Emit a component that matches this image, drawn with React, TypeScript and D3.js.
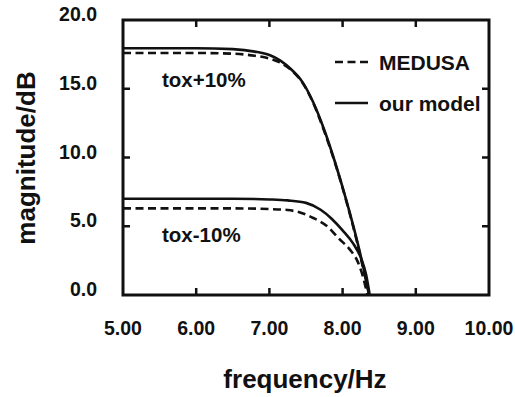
import React, { useRef, useEffect } from "react";
import * as d3 from "d3";

// tick values
const xTicks = [5, 6, 7, 8, 9, 10];
const yTicks = [0, 5, 10, 15, 20];

// tox+10% curves
const highFreqModel = [5.0, 6.0, 6.5, 6.8, 7.0, 7.15, 7.3, 7.45, 7.6, 7.75, 7.9, 8.05, 8.2, 8.3, 8.36];
const highModel = [17.95, 17.95, 17.88, 17.7, 17.45, 17.05, 16.4, 15.5, 14.0, 12.0, 9.6, 6.9, 3.9, 1.6, 0.0];
const highFreqMedusa = [5.0, 6.0, 6.5, 6.8, 7.0, 7.15, 7.3, 7.45, 7.6, 7.75, 7.9, 8.05, 8.2, 8.3, 8.37];
const highMedusa = [17.6, 17.6, 17.55, 17.4, 17.2, 16.9, 16.35, 15.45, 13.95, 11.9, 9.55, 6.85, 3.8, 1.5, 0.0];

// tox-10% curves
const lowFreqModel = [5.0, 6.5, 7.0, 7.25, 7.5, 7.7, 7.85, 8.0, 8.15, 8.25, 8.32, 8.37];
const lowModel = [7.0, 7.0, 6.95, 6.88, 6.7, 6.2, 5.55, 4.7, 3.7, 2.7, 1.5, 0.0];
const lowFreqMedusa = [5.0, 6.5, 7.0, 7.25, 7.45, 7.6, 7.8, 7.95, 8.1, 8.2, 8.28, 8.34];
const lowMedusa = [6.3, 6.3, 6.25, 6.18, 5.95, 5.6, 4.95, 4.1, 3.3, 2.5, 1.3, 0.0];

const legendLabels = ["MEDUSA", "our model"];

export default function App() {
    const ref = useRef<SVGSVGElement | null>(null);

    useEffect(() => {
        if (!ref.current) return;
        const svg = d3.select(ref.current);
        svg.selectAll("*").remove();

        const left = 123, right = 489, top = 20, bottom = 295;
        const font = "'Liberation Sans', Arial, Helvetica, sans-serif";

        const x = d3.scaleLinear().domain([5, 10]).range([left, right]);
        const y = d3.scaleLinear().domain([0, 20]).range([bottom, top]);

        const line = d3.line<[number, number]>()
            .x((d) => x(d[0]))
            .y((d) => y(d[1]))
            .curve(d3.curveMonotoneX);

        const series = [
            { f: highFreqMedusa, v: highMedusa, dashed: true },
            { f: highFreqModel, v: highModel, dashed: false },
            { f: lowFreqMedusa, v: lowMedusa, dashed: true },
            { f: lowFreqModel, v: lowModel, dashed: false },
        ];

        series.forEach((s) => {
            const pts = s.f.map((f, i) => [f, s.v[i]] as [number, number]);
            svg.append("path")
                .attr("d", line(pts)!)
                .attr("fill", "none")
                .attr("stroke", "#111")
                .attr("stroke-width", 2.6)
                .attr("stroke-dasharray", s.dashed ? "8,4.5" : null);
        });

        // frame
        svg.append("rect")
            .attr("x", left)
            .attr("y", top)
            .attr("width", right - left)
            .attr("height", bottom - top)
            .attr("fill", "none")
            .attr("stroke", "#111")
            .attr("stroke-width", 3);

        const tickLen = 7;
        // x ticks (bottom + top, inward)
        xTicks.slice(1, -1).forEach((t) => {
            svg.append("line").attr("x1", x(t)).attr("x2", x(t))
                .attr("y1", bottom).attr("y2", bottom - tickLen)
                .attr("stroke", "#111").attr("stroke-width", 2.5);
            svg.append("line").attr("x1", x(t)).attr("x2", x(t))
                .attr("y1", top).attr("y2", top + tickLen)
                .attr("stroke", "#111").attr("stroke-width", 2.5);
        });
        // y ticks (left + right, inward)
        yTicks.slice(1, -1).forEach((t) => {
            svg.append("line").attr("x1", left).attr("x2", left + tickLen)
                .attr("y1", y(t)).attr("y2", y(t))
                .attr("stroke", "#111").attr("stroke-width", 2.5);
            svg.append("line").attr("x1", right).attr("x2", right - tickLen)
                .attr("y1", y(t)).attr("y2", y(t))
                .attr("stroke", "#111").attr("stroke-width", 2.5);
        });

        // tick labels
        svg.selectAll(".x-label")
            .data(xTicks)
            .enter()
            .append("text")
            .attr("x", (d) => x(d))
            .attr("y", 335)
            .attr("text-anchor", "middle")
            .style("font-family", font)
            .style("font-weight", "bold")
            .style("font-size", "19.5px")
            .attr("fill", "#111")
            .text((d) => d.toFixed(2));

        svg.selectAll(".y-label")
            .data(yTicks)
            .enter()
            .append("text")
            .attr("x", 97)
            .attr("y", (d) => y(d) + 1)
            .attr("text-anchor", "end")
            .style("font-family", font)
            .style("font-weight", "bold")
            .style("font-size", "19.5px")
            .attr("fill", "#111")
            .text((d) => d.toFixed(1));

        // axis titles
        svg.append("text")
            .attr("x", 305)
            .attr("y", 388)
            .attr("text-anchor", "middle")
            .style("font-family", font)
            .style("font-weight", "bold")
            .style("font-size", "26px")
            .attr("fill", "#111")
            .text("frequency/Hz");

        svg.append("text")
            .attr("transform", "translate(35,158) rotate(-90)")
            .attr("text-anchor", "middle")
            .style("font-family", font)
            .style("font-weight", "bold")
            .style("font-size", "26px")
            .attr("fill", "#111")
            .text("magnitude/dB");

        // curve annotations
        svg.append("text")
            .attr("x", 162).attr("y", 87)
            .style("font-family", font).style("font-weight", "bold").style("font-size", "20.5px")
            .attr("fill", "#111")
            .text("tox+10%");
        svg.append("text")
            .attr("x", 162).attr("y", 242)
            .style("font-family", font).style("font-weight", "bold").style("font-size", "20.5px")
            .attr("fill", "#111")
            .text("tox-10%");

        // legend
        legendLabels.forEach((lab, i) => {
            const ly = 62 + i * 41;
            svg.append("line")
                .attr("x1", 335).attr("x2", 368)
                .attr("y1", ly).attr("y2", ly)
                .attr("stroke", "#111").attr("stroke-width", 2.6)
                .attr("stroke-dasharray", i === 0 ? "8,4.5" : null);
            svg.append("text")
                .attr("x", 379).attr("y", ly + 7.5)
                .style("font-family", font).style("font-weight", "bold").style("font-size", "21px")
                .attr("fill", "#111")
                .text(lab);
        });
    }, []);

    return (
        <div>
            <svg ref={ref} width={515} height={397}
                style={{ position: "absolute", left: 0, top: 0, background: "white" }} />
        </div>
    );
}
